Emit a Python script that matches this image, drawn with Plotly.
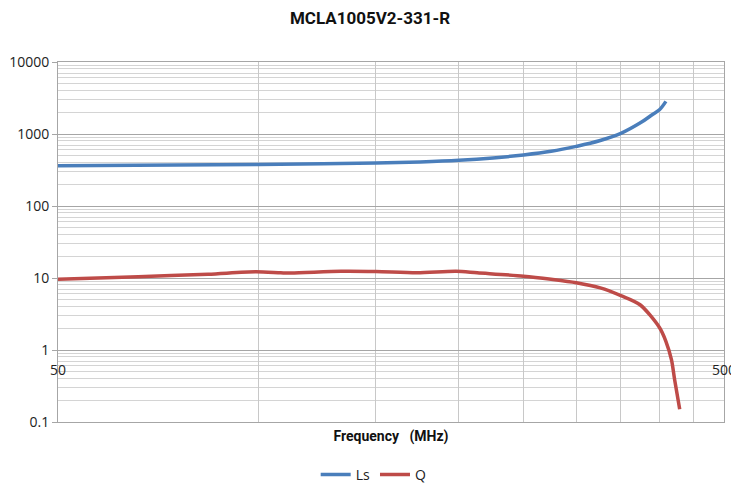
import plotly.graph_objects as go

# Data
freq_ls = [50, 75, 100, 125, 150, 175, 200, 225, 250, 275, 300, 325, 350, 375, 390, 400, 409]
ls_vals = [363, 370, 378, 385, 395, 410, 432, 465, 512, 575, 673, 805, 1020, 1440, 1850, 2170, 2840]

freq_q = [50, 66, 84, 99, 108, 112, 133, 150, 173, 198, 213, 250, 275, 300, 326, 350, 374, 400, 409, 417, 421.5, 429]
q_vals = [9.6, 10.4, 11.3, 12.2, 11.8, 11.7, 12.4, 12.3, 11.8, 12.4, 11.8, 10.6, 9.6, 8.6, 7.3, 5.7, 4.25, 2.05, 1.32, 0.73, 0.39, 0.15]

y_tickvals = [0.1, 1, 10, 100, 1000, 10000]
y_ticktext = ["0.1", "1", "10", "100", "1000", "10000"]
x_gridvals = [100, 150, 200, 250, 300, 350, 400, 450]
x_labelvals = [50, 500]
x_labeltext = ["50", "500"]

FONT = "Open Sans"
BOLD = "Roboto"
fig = go.Figure()
fig.add_trace(go.Scatter(x=freq_ls, y=ls_vals, name="Ls", mode="lines",
                         line=dict(color="#4a7ebb", width=3.5, shape="spline", smoothing=1.0)))
fig.add_trace(go.Scatter(x=freq_q, y=q_vals, name="Q", mode="lines",
                         line=dict(color="#be4b48", width=3.5, shape="spline", smoothing=0.8)))
# invisible trace to host the secondary x axis (labels crossing at y=1)
fig.add_trace(go.Scatter(x=freq_q, y=q_vals, xaxis="x2", mode="lines", opacity=0,
                         line=dict(width=0), showlegend=False, hoverinfo="skip"))

# page body has an 8px margin, so the figure is 8px smaller and margins shifted
fig.update_layout(
    width=731, height=477,
    margin=dict(l=50, r=15, t=54, b=63, autoexpand=False),
    paper_bgcolor="white", plot_bgcolor="white",
    font=dict(family=FONT, size=14, color="#222222"),
    title=dict(text="<b>MCLA1005V2-331-R</b>", x=(370 - 8) / 731, xanchor="center",
               y=1 - 10/477, yanchor="middle", font=dict(family=BOLD, size=17, color="#111111")),
    xaxis=dict(type="log", range=[1.69897, 2.69897], tickmode="array", tickvals=x_gridvals,
               showticklabels=False, showgrid=True, gridcolor="#c8c8c8", gridwidth=1,
               showline=True, linecolor="#a6a6a6", mirror=True, zeroline=False, automargin=False,
               title=dict(text="<b>Frequency\u00a0\u00a0\u00a0(MHz)</b>", standoff=9,
                          font=dict(family=BOLD, size=14, color="#111111"))),
    xaxis2=dict(type="log", range=[1.69897, 2.69897], overlaying="x", anchor="free", position=0.2,
                side="bottom", tickmode="array", tickvals=x_labelvals, ticktext=x_labeltext,
                showgrid=False, showline=False, ticks="outside", ticklen=7,
                tickcolor="rgba(0,0,0,0)", zeroline=False, automargin=False,
                tickfont=dict(size=14, color="#222222")),
    yaxis=dict(type="log", range=[-1, 4], tickmode="array", tickvals=y_tickvals, ticktext=y_ticktext,
               showgrid=True, gridcolor="#a6a6a6", gridwidth=1,
               minor=dict(dtick="D1", showgrid=True, gridcolor="#d4d4d4", ticks=""),
               ticks="outside", ticklen=5, tickcolor="#a6a6a6", automargin=False,
               showline=True, linecolor="#a6a6a6", mirror=True, zeroline=False,
               tickfont=dict(size=14, color="#222222")),
    legend=dict(orientation="h", x=0.474, xanchor="center", y=-0.147, yanchor="middle",
                font=dict(size=14, color="#222222"), itemwidth=30),
    showlegend=True,
)

fig.write_html("out.html")
